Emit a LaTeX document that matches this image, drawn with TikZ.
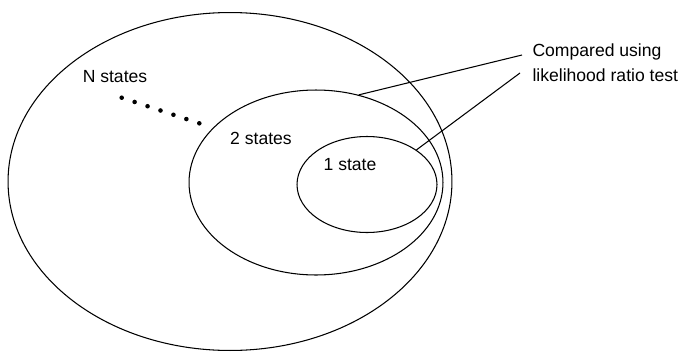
\documentclass[tikz,border=0pt]{standalone}
\usepackage{fontspec}
\setmainfont{Liberation Sans}
\usetikzlibrary{shapes.geometric, positioning, calc}

\begin{document}
\begin{tikzpicture}[x=0.02cm, y=-0.02cm, line width=0.6pt,
    set/.style={ellipse, draw, inner sep=0pt},
    lbl/.style={inner sep=0pt, font=\fontsize{10}{14.2}\selectfont}]
  \useasboundingbox (0,0) rectangle (686,352);

  % nested model sets
  \node[set, minimum width=8.88cm, minimum height=6.76cm] (outer) at (230,181.5) {};
  \node[set, minimum width=5.08cm, minimum height=3.70cm] (mid) at (316,182.5) {};
  \node[set, minimum width=2.80cm, minimum height=1.92cm] (inner) at (367,184.5) {};

  \node[lbl] (nst) at (115,77) {N states};
  \node[lbl] (two) at (261,138) {2 states};
  \node[lbl] (one) at (350,165) {1 state};
  \node[lbl, anchor=west, align=left] (cmp) at (532,63) {Compared using\\likelihood ratio test};

  % dots between N and 2
  \coordinate (d1) at (121.7,97.7);
  \coordinate (d2) at (199.3,123.3);
  \foreach \i in {0,...,6}
    \fill ($(d1)!\i/6!(d2)$) circle (1.3pt);

  \coordinate (c1) at (522,55);
  \coordinate (c2) at (520,73);
  \draw (mid.64) -- (c1);
  \draw (inner.35) -- (c2);
\end{tikzpicture}
\end{document}
